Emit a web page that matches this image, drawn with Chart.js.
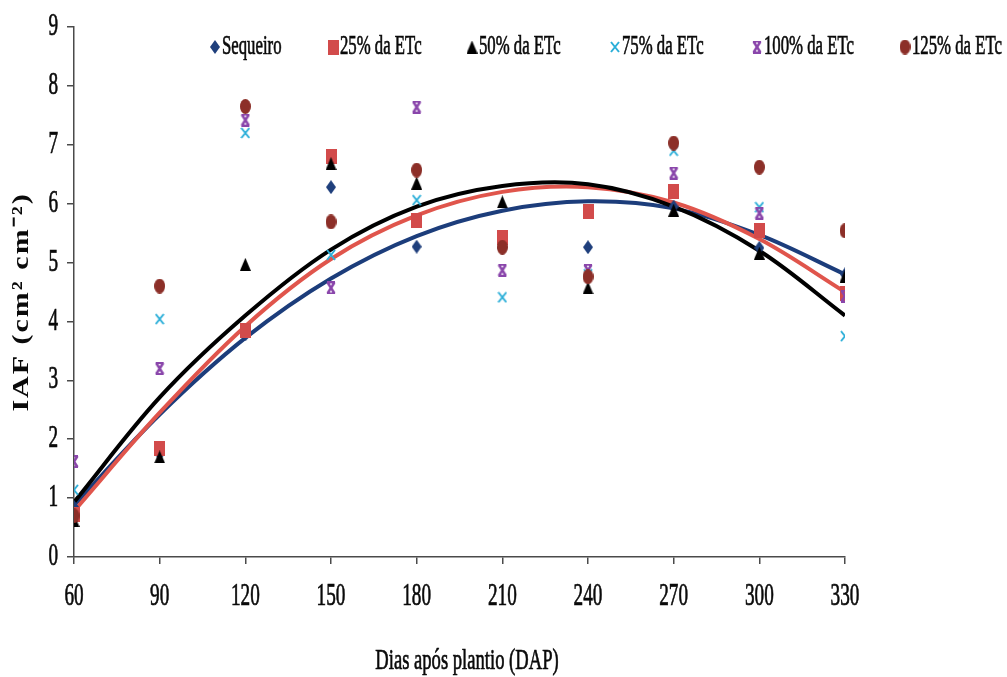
<!DOCTYPE html>
<html>
<head>
<meta charset="utf-8">
<script src="https://cdn.jsdelivr.net/npm/chart.js@4.4.1/dist/chart.umd.min.js"></script>
<style>
  html, body { margin: 0; padding: 0; background: #fff; }
  #wrap { width: 1007px; height: 677px; }
</style>
</head>
<body>
<div id="wrap"><canvas id="iafChart" width="1007" height="677"></canvas></div>
<script>
// days after planting
const dap = [60, 90, 120, 150, 180, 210, 240, 270, 300, 330];

// leaf area index per treatment
const sequeiro = [0.85, 1.75, 3.78, 6.28, 5.27, 5.25, 5.26, 5.95, 5.25, 4.8];
const etc25 = [0.72, 1.85, 3.84, 6.8, 5.72, 5.43, 5.86, 6.2, 5.55, 4.47];
const etc50 = [0.62, 1.7, 4.97, 6.68, 6.35, 6.03, 4.57, 5.89, 5.16, 4.77];
const etc75 = [1.14, 4.04, 7.2, 5.13, 6.06, 4.41, 4.8, 6.9, 5.94, 3.75];
const etc100 = [1.62, 3.2, 7.42, 4.57, 7.64, 4.87, 4.87, 6.52, 5.84, 4.43];
const etc125 = [0.7, 4.6, 7.65, 5.69, 6.57, 5.26, 4.76, 7.03, 6.62, 5.54];

// fitted curves
const fitSequeiro = [0.88, 2.42, 3.72, 4.73, 5.45, 5.88, 6.04, 5.92, 5.47, 4.8];
const fit25 = [0.78, 2.45, 3.92, 5.06, 5.8, 6.2, 6.28, 6.02, 5.4, 4.5];
const fit50 = [0.93, 2.71, 4.1, 5.22, 5.95, 6.3, 6.33, 5.95, 5.2, 4.1];

const seriesNames = ["Sequeiro", "25% da ETc", "50% da ETc", "75% da ETc", "100% da ETc", "125% da ETc"];
const xTitle = "Dias após plantio (DAP)";
const yTitle = "IAF (cm² cm⁻²)";

const SQUEEZE = 0.62;
const FONT = "'Liberation Serif', 'Times New Roman', serif";

// small canvases used as point markers
function makeMarker(kind, color) {
  const sizes = {
    diamond: [10, 14], square: [11, 15], triangle: [11, 13],
    cross: [10, 12], hourglass: [10, 13], ellipse: [11, 15],
  };
  const [w, h] = sizes[kind];
  const c = document.createElement("canvas");
  c.width = w;
  c.height = h;
  const g = c.getContext("2d");
  g.fillStyle = color;
  g.strokeStyle = color;
  g.beginPath();
  if (kind === "diamond") {
    g.moveTo(w / 2, 0); g.lineTo(w, h / 2); g.lineTo(w / 2, h); g.lineTo(0, h / 2);
    g.closePath(); g.fill();
  } else if (kind === "square") {
    g.fillRect(0, 0, w, h);
  } else if (kind === "triangle") {
    g.moveTo(w / 2, 0); g.lineTo(w, h); g.lineTo(0, h);
    g.closePath(); g.fill();
  } else if (kind === "cross") {
    g.lineWidth = 2;
    g.moveTo(1, 1); g.lineTo(w - 1, h - 1);
    g.moveTo(w - 1, 1); g.lineTo(1, h - 1);
    g.stroke();
  } else if (kind === "hourglass") {
    // x with a bar on top and bottom
    g.fillRect(1, 0, w - 2, 2);
    g.fillRect(1, h - 2, w - 2, 2);
    g.lineWidth = 2.5;
    g.moveTo(1.5, 1); g.lineTo(w - 1.5, h - 1);
    g.moveTo(w - 1.5, 1); g.lineTo(1.5, h - 1);
    g.stroke();
  } else if (kind === "ellipse") {
    g.ellipse(w / 2, h / 2, w / 2, h / 2, 0, 0, Math.PI * 2);
    g.fill();
  }
  return c;
}

const markers = [
  makeMarker("diamond", "#1f3f7c"),
  makeMarker("square", "#d24b4b"),
  makeMarker("triangle", "#000000"),
  makeMarker("cross", "#2aaed8"),
  makeMarker("hourglass", "#8a46ab"),
  makeMarker("ellipse", "#8c2f28"),
];

const pointSets = [sequeiro, etc25, etc50, etc75, etc100, etc125];
const toXY = (arr) => arr.map((v, i) => ({ x: dap[i], y: v }));

const datasets = pointSets.map((vals, i) => ({
  label: seriesNames[i],
  data: toXY(vals),
  pointStyle: markers[i],
  pointRadius: 6,
  showLine: false,
  order: pointSets.length - 1 - i,
}));

const fits = [
  { data: fit50, color: "#000000", order: 6 },
  { data: fit25, color: "#e0554c", order: 7 },
  { data: fitSequeiro, color: "#1c3d7b", order: 8 },
];
fits.forEach((f) => {
  datasets.push({
    label: "",
    data: toXY(f.data),
    showLine: true,
    borderColor: f.color,
    borderWidth: 4,
    tension: 0.35,
    pointRadius: 0,
    order: f.order,
  });
});

// text squeezed sideways, with a thin stroke to thicken the strokes a bit
function drawText(ctx, text, x, y, align, font) {
  ctx.save();
  ctx.font = font;
  ctx.textBaseline = "middle";
  ctx.textAlign = align;
  ctx.fillStyle = "#0a0a0a";
  ctx.strokeStyle = "#0a0a0a";
  ctx.lineWidth = 0.7;
  ctx.translate(x, y);
  ctx.scale(SQUEEZE, 1);
  ctx.fillText(text, 0, 0);
  ctx.strokeText(text, 0, 0);
  ctx.restore();
}

const textPlugin = {
  id: "narrowText",
  afterDraw(chart) {
    const ctx = chart.ctx;
    const xs = chart.scales.x;
    const ys = chart.scales.y;

    xs.ticks.forEach((t) => {
      drawText(ctx, String(t.value), xs.getPixelForValue(t.value), 597, "center", "31px " + FONT);
    });
    ys.ticks.forEach((t) => {
      drawText(ctx, String(t.value), 58, ys.getPixelForValue(t.value), "right", "31px " + FONT);
    });

    drawText(ctx, xTitle, 467, 661, "center", "30px " + FONT);

    ctx.save();
    ctx.translate(22, 302);
    ctx.rotate(-Math.PI / 2);
    ctx.scale(1, 0.8);
    ctx.font = "bold 30px " + FONT;
    ctx.letterSpacing = "2px";
    ctx.textAlign = "center";
    ctx.textBaseline = "middle";
    ctx.fillStyle = "#0a0a0a";
    ctx.fillText(yTitle, 0, 0);
    ctx.restore();

    const legendX = [215, 333, 472, 615, 757, 905];
    const legendY = 47;
    seriesNames.forEach((name, i) => {
      const m = markers[i];
      ctx.drawImage(m, legendX[i] - m.width / 2, legendY - m.height / 2);
      drawText(ctx, name, legendX[i] + 7, legendY, "left", "27px " + FONT);
    });
  },
};

const axisColor = "#4a4a4a";

new Chart(document.getElementById("iafChart"), {
  type: "scatter",
  data: { datasets: datasets },
  options: {
    responsive: false,
    animation: false,
    devicePixelRatio: 1,
    layout: { padding: { top: 27, right: 162, left: 0, bottom: 0 } },
    plugins: {
      legend: { display: false },
      tooltip: { enabled: false },
    },
    scales: {
      x: {
        type: "linear",
        min: 60,
        max: 330,
        ticks: { stepSize: 30, display: false },
        grid: { drawOnChartArea: false, drawTicks: true, tickLength: 7, color: axisColor, lineWidth: 1.5 },
        border: { display: true, color: axisColor, width: 1.5 },
        afterFit(scale) { scale.height = 120; },
      },
      y: {
        min: 0,
        max: 9,
        ticks: { stepSize: 1, display: false },
        grid: { drawOnChartArea: false, drawTicks: true, tickLength: 7, color: axisColor, lineWidth: 1.5 },
        border: { display: true, color: axisColor, width: 1.5 },
        afterFit(scale) { scale.width = 74; },
      },
    },
  },
  plugins: [textPlugin],
});
</script>
</body>
</html>
